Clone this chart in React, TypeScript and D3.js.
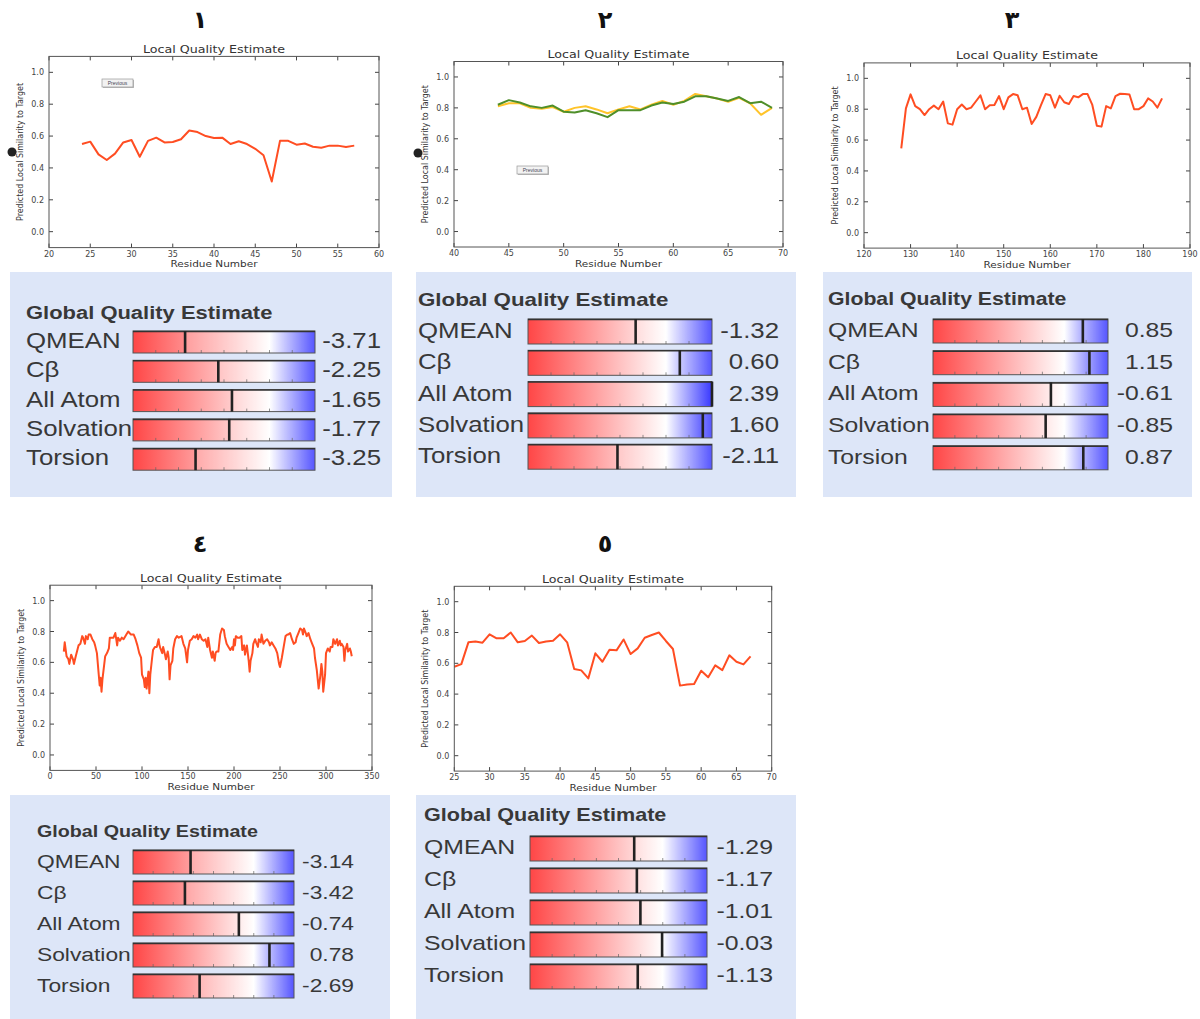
import React from 'react'
import * as d3 from 'd3'

// ---- local quality data ----
const p1Start = 24
const p1Values = [0.55, 0.565, 0.485, 0.45, 0.49, 0.56, 0.575, 0.47, 0.57, 0.59, 0.56, 0.563, 0.58, 0.635, 0.625, 0.6, 0.588, 0.59, 0.55, 0.567, 0.55, 0.52, 0.48, 0.315, 0.57, 0.57, 0.546, 0.553, 0.533, 0.527, 0.54, 0.54, 0.532, 0.54]

const p2Start = 44
const p2Yellow = [0.81, 0.83, 0.83, 0.8, 0.795, 0.805, 0.775, 0.8, 0.81, 0.79, 0.765, 0.79, 0.81, 0.79, 0.82, 0.845, 0.82, 0.845, 0.89, 0.875, 0.86, 0.84, 0.865, 0.83, 0.755, 0.8]
const p2Green = [0.82, 0.85, 0.835, 0.81, 0.8, 0.815, 0.775, 0.77, 0.785, 0.765, 0.74, 0.785, 0.785, 0.785, 0.815, 0.835, 0.825, 0.84, 0.875, 0.875, 0.86, 0.845, 0.87, 0.83, 0.84, 0.8]

const p3Start = 128
const p3Values = [0.546, 0.805, 0.896, 0.82, 0.8, 0.762, 0.8, 0.823, 0.8, 0.85, 0.708, 0.7, 0.8, 0.83, 0.8, 0.81, 0.85, 0.89, 0.8, 0.825, 0.827, 0.885, 0.8, 0.877, 0.898, 0.89, 0.8, 0.81, 0.704, 0.75, 0.827, 0.898, 0.89, 0.81, 0.887, 0.845, 0.834, 0.885, 0.877, 0.898, 0.898, 0.83, 0.693, 0.687, 0.82, 0.805, 0.885, 0.9, 0.898, 0.895, 0.8, 0.8, 0.82, 0.87, 0.85, 0.81, 0.87]

const p4Residues = [15, 16, 18, 20, 21, 23, 25, 26, 28, 31, 33, 35, 36, 38, 39, 41, 42, 44, 46, 48, 49, 51, 53, 54, 55, 56, 57, 58, 60, 62, 64, 65, 69, 71, 72, 73, 74, 76, 78, 80, 83, 85, 88, 91, 93, 95, 97, 99, 100, 102, 103, 104, 105, 107, 108, 109, 111, 112, 114, 116, 118, 119, 120, 122, 123, 125, 126, 128, 129, 130, 131, 133, 134, 136, 138, 140, 143, 145, 147, 149, 150, 152, 154, 156, 158, 160, 161, 163, 165, 167, 169, 171, 172, 174, 176, 177, 179, 180, 181, 183, 185, 187, 189, 190, 192, 194, 196, 198, 199, 200, 201, 202, 204, 206, 208, 209, 211, 212, 214, 216, 217, 218, 220, 221, 223, 224, 226, 227, 229, 230, 232, 234, 236, 238, 239, 241, 243, 245, 247, 249, 250, 252, 254, 256, 258, 259, 261, 263, 265, 267, 268, 270, 272, 274, 275, 276, 278, 279, 281, 283, 285, 287, 288, 290, 292, 294, 295, 296, 297, 299, 300, 302, 304, 305, 307, 308, 310, 312, 313, 315, 316, 317, 319, 320, 321, 323, 324, 326, 327, 328]
const p4Values = [0.67, 0.73, 0.64, 0.62, 0.59, 0.65, 0.62, 0.59, 0.64, 0.71, 0.72, 0.77, 0.76, 0.72, 0.77, 0.75, 0.78, 0.78, 0.75, 0.73, 0.71, 0.66, 0.52, 0.45, 0.5, 0.41, 0.49, 0.54, 0.64, 0.66, 0.69, 0.76, 0.76, 0.79, 0.75, 0.71, 0.76, 0.74, 0.76, 0.75, 0.78, 0.8, 0.78, 0.78, 0.75, 0.71, 0.66, 0.63, 0.52, 0.49, 0.44, 0.5, 0.43, 0.54, 0.4, 0.52, 0.63, 0.68, 0.7, 0.7, 0.75, 0.71, 0.69, 0.66, 0.7, 0.65, 0.62, 0.67, 0.63, 0.49, 0.58, 0.61, 0.69, 0.75, 0.77, 0.76, 0.77, 0.72, 0.69, 0.6, 0.68, 0.74, 0.75, 0.77, 0.76, 0.78, 0.75, 0.78, 0.75, 0.74, 0.75, 0.7, 0.76, 0.68, 0.63, 0.67, 0.61, 0.66, 0.67, 0.67, 0.78, 0.82, 0.81, 0.77, 0.72, 0.7, 0.68, 0.7, 0.68, 0.75, 0.71, 0.77, 0.76, 0.76, 0.77, 0.68, 0.71, 0.65, 0.71, 0.61, 0.54, 0.61, 0.66, 0.72, 0.75, 0.73, 0.7, 0.75, 0.73, 0.78, 0.72, 0.74, 0.75, 0.73, 0.71, 0.73, 0.71, 0.69, 0.66, 0.59, 0.57, 0.63, 0.7, 0.77, 0.78, 0.78, 0.79, 0.75, 0.72, 0.73, 0.76, 0.79, 0.82, 0.81, 0.78, 0.82, 0.79, 0.77, 0.79, 0.75, 0.72, 0.69, 0.63, 0.55, 0.43, 0.52, 0.59, 0.54, 0.41, 0.52, 0.66, 0.69, 0.67, 0.7, 0.7, 0.75, 0.72, 0.75, 0.71, 0.74, 0.71, 0.72, 0.7, 0.61, 0.68, 0.72, 0.67, 0.69, 0.67, 0.64]

const p5Start = 25
const p5Values = [0.578, 0.595, 0.736, 0.742, 0.734, 0.788, 0.762, 0.762, 0.8, 0.736, 0.745, 0.78, 0.732, 0.742, 0.747, 0.788, 0.736, 0.563, 0.554, 0.502, 0.665, 0.61, 0.688, 0.684, 0.755, 0.66, 0.697, 0.766, 0.784, 0.8, 0.745, 0.693, 0.455, 0.463, 0.465, 0.552, 0.509, 0.587, 0.556, 0.652, 0.61, 0.593, 0.645]

// ---- global quality data ----
const metricNames = ['QMEAN', 'Cβ', 'All Atom', 'Solvation', 'Torsion']
const p1Scores = [-3.71, -2.25, -1.65, -1.77, -3.25]
const p2Scores = [-1.32, 0.6, 2.39, 1.6, -2.11]
const p3Scores = [0.85, 1.15, -0.61, -0.85, 0.87]
const p4Scores = [-3.14, -3.42, -0.74, 0.78, -2.69]
const p5Scores = [-1.29, -1.17, -1.01, -0.03, -1.13]
const panelNumbers = ['١', '٢', '٣', '٤', '٥']

const ORANGE = '#ff4d22'
const YELLOW = '#ffc42a'
const GREEN = '#4f8f2a'

const fromStart = (start, vals) => vals.map((v, i) => [start + i, v])
const pairs = (xs, vals) => vals.map((v, i) => [xs[i], v])

const localPanels = [
  {frame: {l: 49, r: 379, t: 56.4, b: 247.6}, xDomain: [20, 60], xStep: 5,
    series: [{pts: fromStart(p1Start, p1Values), color: ORANGE}], button: {x: 102, y: 79}, dot: {x: 12, y: 152}},
  {frame: {l: 454, r: 783, t: 61.5, b: 247}, xDomain: [40, 70], xStep: 5,
    series: [{pts: fromStart(p2Start, p2Yellow), color: YELLOW}, {pts: fromStart(p2Start, p2Green), color: GREEN}],
    button: {x: 517, y: 166}, dot: {x: 418, y: 153}},
  {frame: {l: 864, r: 1190, t: 62.9, b: 248.1}, xDomain: [120, 190], xStep: 10,
    series: [{pts: fromStart(p3Start, p3Values), color: ORANGE}]},
  {frame: {l: 50, r: 372, t: 585.2, b: 770.4}, xDomain: [0, 350], xStep: 50,
    series: [{pts: pairs(p4Residues, p4Values), color: ORANGE}]},
  {frame: {l: 454.3, r: 771.7, t: 586.3, b: 771.1}, xDomain: [25, 70], xStep: 5,
    series: [{pts: fromStart(p5Start, p5Values), color: ORANGE}]},
]

const globalPanels = [
  {box: [10, 272, 382, 225], tx: 26, ty: 319, ts: 18.3, ls: 21.5, row0: 348, step: 29.3, bx: [133, 315], bOff: 17, bh: 22, vx: 381, scores: p1Scores},
  {box: [416, 272, 380, 225], tx: 418, ty: 306, ts: 18.6, ls: 21.5, row0: 338, step: 31.3, bx: [528, 712], bOff: 19, bh: 25, vx: 779, scores: p2Scores},
  {box: [823, 272, 369, 225], tx: 828, ty: 305, ts: 17.7, ls: 20.6, row0: 337, step: 31.7, bx: [933, 1108], bOff: 18, bh: 24, vx: 1173, scores: p3Scores},
  {box: [10, 795, 380, 224], tx: 37, ty: 837, ts: 16.4, ls: 19, row0: 868, step: 31, bx: [133, 294], bOff: 18, bh: 24, vx: 354, scores: p4Scores},
  {box: [416, 795, 380, 224], tx: 424, ty: 821, ts: 18, ls: 20.7, row0: 854, step: 32, bx: [530, 707], bOff: 18, bh: 25, vx: 773, scores: p5Scores},
]

const numberPos = [[200, 28], [605, 28], [1012, 28], [200, 552], [605, 552]]

const SANS = 'Liberation Sans, Arial, sans-serif'
const DJV = 'DejaVu Sans, sans-serif'

function LocalChart({frame, xDomain, xStep, series, button, dot}) {
  const {l, r, t, b} = frame
  const x = d3.scaleLinear().domain(xDomain).range([l, r])
  const y = d3.scaleLinear().domain([-0.1, 1.1]).range([b, t])
  const yTicks = [0, 0.2, 0.4, 0.6, 0.8, 1.0]
  const xTicks = d3.range(xDomain[0], xDomain[1] + 0.001, xStep)
  const line = d3.line().x(d => x(d[0])).y(d => y(d[1]))
  const cx = (l + r) / 2
  const cy = (t + b) / 2
  return <g>
    <rect x={l} y={t} width={r - l} height={b - t} fill="white" />
    {series.map((s, i) =>
      <path key={i} d={line(s.pts)} fill="none" stroke={s.color} strokeWidth={2} strokeLinejoin="round" />)}
    {yTicks.map(v => <g key={v}>
      <line x1={l} x2={l + 4} y1={y(v)} y2={y(v)} stroke="#444" />
      <line x1={r} x2={r - 4} y1={y(v)} y2={y(v)} stroke="#444" />
      <text x={l - 5} y={y(v) + 3} textAnchor="end" fontSize={8} fontFamily={DJV} fill="#444">{v.toFixed(1)}</text>
    </g>)}
    {xTicks.map(v => <g key={v}>
      <line x1={x(v)} x2={x(v)} y1={b} y2={b - 4} stroke="#444" />
      <line x1={x(v)} x2={x(v)} y1={t} y2={t + 4} stroke="#444" />
      <text x={x(v)} y={b + 9} textAnchor="middle" fontSize={8} fontFamily={DJV} fill="#444">{v}</text>
    </g>)}
    <rect x={l} y={t} width={r - l} height={b - t} fill="none" stroke="#555" strokeWidth={1} />
    <text x={cx} y={t - 3.5} textAnchor="middle" fontSize={10.5} fontFamily={DJV} fill="#333"
      textLength={142} lengthAdjust="spacingAndGlyphs">Local Quality Estimate</text>
    <text x={cx} y={b + 19.5} textAnchor="middle" fontSize={9.5} fontFamily={DJV} fill="#333"
      textLength={87} lengthAdjust="spacingAndGlyphs">Residue Number</text>
    <text transform={`translate(${l - 26},${cy}) rotate(-90)`} textAnchor="middle" fontSize={9} fontFamily={DJV} fill="#333"
      textLength={138} lengthAdjust="spacingAndGlyphs">Predicted Local Similarity to Target</text>
    {button && <g>
      <rect x={button.x + 1} y={button.y + 1} width={31} height={8} fill="#bbb" />
      <rect x={button.x} y={button.y} width={31} height={8} fill="#f2f2f2" stroke="#999" strokeWidth={0.7} />
      <text x={button.x + 15.5} y={button.y + 6} textAnchor="middle" fontSize={5} fontFamily={SANS} fill="#445">Previous</text>
    </g>}
    {dot && <circle cx={dot.x} cy={dot.y} r={4.5} fill="#222" />}
  </g>
}

function GlobalBox({cfg}) {
  const [bx, by, bw, bh] = cfg.box
  const s = d3.scaleLinear().domain([-6, 2]).range(cfg.bx).clamp(true)
  const ticks = d3.range(-5, 2)
  const ink = '#383838'
  return <g>
    <rect x={bx} y={by} width={bw} height={bh} fill="#dde6f8" />
    <text transform={`translate(${cfg.tx},${cfg.ty}) scale(1.2,1)`} fontSize={cfg.ts} fontWeight="bold" fontFamily={SANS} fill={ink}>
      Global Quality Estimate
    </text>
    {metricNames.map((name, i) => {
      const base = cfg.row0 + i * cfg.step
      const top = base - cfg.bOff
      const v = cfg.scores[i]
      const mx = s(v)
      const [x0, x1] = cfg.bx
      return <g key={name}>
        <text transform={`translate(${cfg.tx},${base}) scale(1.2,1)`} fontSize={cfg.ls} fontFamily={SANS} fill={ink}>{name}</text>
        <rect x={x0} y={top} width={x1 - x0} height={cfg.bh} fill="url(#qgrad)" />
        <rect x={mx} y={top} width={x1 - mx} height={cfg.bh} fill="white" opacity={0.15} />
        {ticks.map(t => <line key={t} x1={s(t)} x2={s(t)} y1={top + cfg.bh - 3} y2={top + cfg.bh} stroke="#666" opacity={0.7} />)}
        <rect x={x0} y={top} width={x1 - x0} height={cfg.bh} fill="none" stroke="#555" strokeWidth={1} />
        <line x1={x0} x2={x1} y1={top + 0.5} y2={top + 0.5} stroke="#333" strokeWidth={1.5} />
        <line x1={mx} x2={mx} y1={top} y2={top + cfg.bh} stroke="#222" strokeWidth={2.6} />
        <text transform={`translate(${cfg.vx},${base}) scale(1.2,1)`} textAnchor="end" fontSize={cfg.ls} fontFamily={SANS} fill={ink}>
          {v.toFixed(2)}
        </text>
      </g>
    })}
  </g>
}

export default function App() {
  return <svg width={1200} height={1019} style={{position: 'absolute', left: 0, top: 0, background: 'white'}}>
    <defs>
      <linearGradient id="qgrad" x1="0" x2="1" y1="0" y2="0">
        <stop offset="0" stopColor="#ff4646" />
        <stop offset="0.75" stopColor="#ffffff" />
        <stop offset="1" stopColor="#3838ff" />
      </linearGradient>
    </defs>
    <rect width={1200} height={1019} fill="white" />
    {panelNumbers.map((n, i) =>
      <text key={n} x={numberPos[i][0]} y={numberPos[i][1]} textAnchor="middle" fontSize={24} fontWeight="bold" fontFamily={DJV} fill="#111">{n}</text>)}
    {localPanels.map((p, i) => <LocalChart key={i} {...p} />)}
    {globalPanels.map((g, i) => <GlobalBox key={i} cfg={g} />)}
  </svg>
}
